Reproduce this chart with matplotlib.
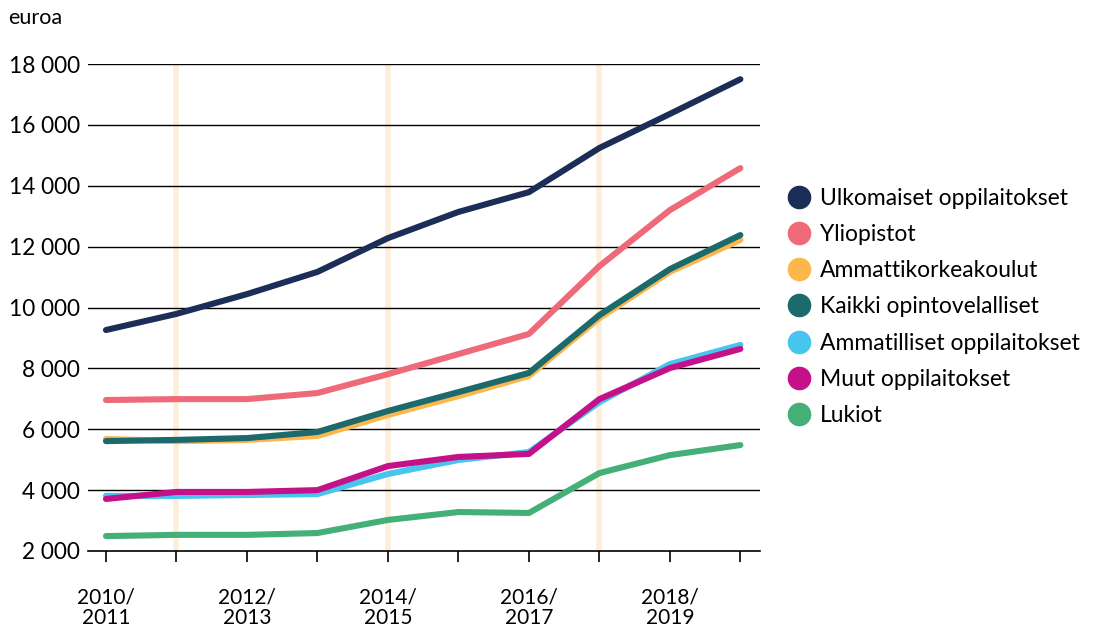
import numpy as np
import matplotlib.pyplot as plt
from matplotlib.lines import Line2D

plt.rcParams['font.family'] = ['Lato', 'DejaVu Sans']

years = ['2010/\n2011', '2011/\n2012', '2012/\n2013', '2013/\n2014', '2014/\n2015',
         '2015/\n2016', '2016/\n2017', '2017/\n2018', '2018/\n2019', '2019/\n2020']

ulkomaiset = [9260, 9790, 10440, 11170, 12280, 13140, 13790, 15240, 16360, 17500]
yliopistot = [6960, 6990, 6990, 7190, 7810, 8470, 9130, 11360, 13200, 14580]
amk = [5680, 5610, 5650, 5780, 6470, 7090, 7750, 9650, 11170, 12220]
kaikki = [5610, 5650, 5710, 5910, 6600, 7220, 7850, 9750, 11260, 12380]
ammatilliset = [3810, 3810, 3840, 3870, 4530, 4990, 5250, 6890, 8140, 8770]
muut = [3710, 3940, 3940, 4000, 4790, 5090, 5190, 6990, 8010, 8640]
lukiot = [2490, 2530, 2530, 2590, 3020, 3280, 3250, 4560, 5150, 5480]

names = ['Ulkomaiset oppilaitokset', 'Yliopistot', 'Ammattikorkeakoulut',
         'Kaikki opintovelalliset', 'Ammatilliset oppilaitokset', 'Muut oppilaitokset', 'Lukiot']
series = [ulkomaiset, yliopistot, amk, kaikki, ammatilliset, muut, lukiot]
colors = ['#1c2d57', '#ee6a78', '#fcb64c', '#1d6a6c', '#47c5ee', '#c4118a', '#44b077']
highlight = [1, 4, 7]

fig = plt.figure(figsize=(11, 6.3), dpi=100)
ax = fig.add_axes([0.08, 0.1254, 0.611, 0.7730])

x = np.arange(len(years))
for h in highlight:
    ax.axvline(h, color='#fdeedb', lw=4, zorder=0)
ax.set_yticks(np.arange(2000, 18001, 2000))
for yv in np.arange(4000, 18001, 2000):
    ax.axhline(yv, color='black', lw=1, zorder=1)

# drawing order: bottom to top
order = [6, 4, 5, 2, 3, 1, 0]
for i in order:
    ax.plot(x, series[i], color=colors[i], lw=4.4, solid_capstyle='round',
            solid_joinstyle='round', zorder=3 + order.index(i))

ax.set_xlim(-0.255, 9.28)
ax.set_ylim(2000, 18000)
ax.set_xticks(x)
ax.set_xticklabels([y if i % 2 == 0 else '' for i, y in enumerate(years)], fontsize=15,
                   linespacing=1.05)
ax.set_yticklabels([f'{v:,}'.replace(',', ' ') for v in range(2000, 18001, 2000)], fontsize=16.3)
ax.tick_params(axis='x', length=8, width=1.2, pad=18, direction='out')
ax.tick_params(axis='y', length=0, pad=6)
for s in ['top', 'right', 'left']:
    ax.spines[s].set_visible(False)
ax.spines['bottom'].set_linewidth(1.2)

fig.text(0.007, 0.972, 'euroa', fontsize=15.5, va='center', ha='left')

handles = [Line2D([], [], marker='o', ls='', markersize=16, color=c) for c in colors]
fig.legend(handles, names, loc='upper left', bbox_to_anchor=(0.715, 0.702), frameon=False,
           fontsize=16.5, handletextpad=0.35, labelspacing=0.665, handlelength=1.1,
           borderpad=0, borderaxespad=0)

fig.savefig('out.png', dpi=100)
